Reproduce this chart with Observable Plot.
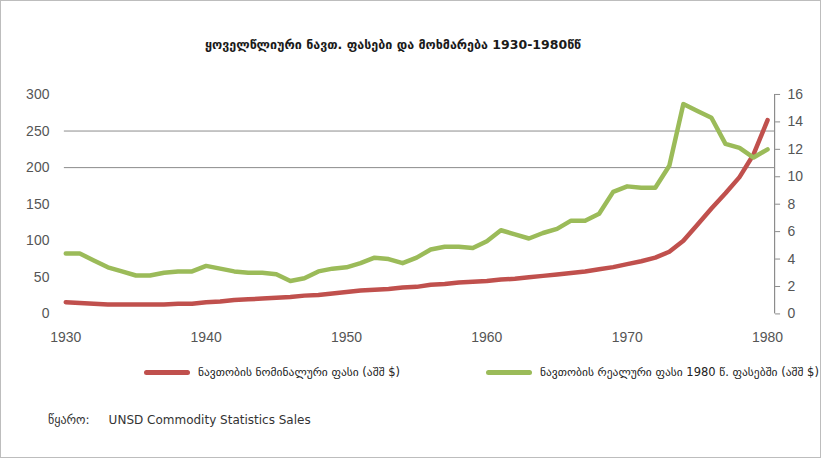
<!DOCTYPE html>
<html>
<head>
<meta charset="utf-8">
<script src="https://cdn.jsdelivr.net/npm/d3@7"></script>
<script src="https://cdn.jsdelivr.net/npm/@observablehq/plot@0.6"></script>
<style>
  html, body { margin: 0; padding: 0; background: #fff; }
  #frame { position: relative; width: 819px; height: 456px; border: 1px solid #bdbdbd; overflow: hidden; background: #fff; }
  #title { position: absolute; left: 0; top: 36px; width: 784px; text-align: center; font: bold 12.5px "DejaVu Sans", sans-serif; color: #1a1a1a; }
  #chart { position: absolute; left: 0; top: 80px; }
  #legend { position: absolute; left: 143px; top: 364px; width: 670px; font: 11.5px "DejaVu Sans", sans-serif; color: #222; white-space: nowrap; }
  .item { position: absolute; top: 0; display: flex; align-items: center; }
  .sw { display: inline-block; width: 46px; height: 5px; border-radius: 3px; margin-right: 8px; }
  #source { position: absolute; left: 47px; top: 412px; font: 12px "DejaVu Sans", sans-serif; color: #333; white-space: pre; }
</style>
</head>
<body>
<div id="frame">
  <div id="title"></div>
  <div id="chart"></div>
  <div id="legend"></div>
  <div id="source"></div>
</div>
<script>
const titleText = "ყოველწლიური ნავთ. ფასები და მოხმარება 1930-1980წწ";
const sourceText = "წყარო:     UNSD Commodity Statistics Sales";
const seriesNames = ["ნავთობის ნომინალური ფასი (აშშ $)", "ნავთობის რეალური ფასი 1980 წ. ფასებში (აშშ $)"];
const years = d3.range(1930, 1981);
const redValues = [16,15,14,13,13,13,13,13,14,14,16,17,19,20,21,22,23,25,26,28,30,32,33,34,36,37,40,41,43,44,45,47,48,50,52,54,56,58,61,64,68,72,77,85,100,122,144,165,187,218,265];
const greenValues = [4.4,4.4,3.9,3.4,3.1,2.8,2.8,3.0,3.1,3.1,3.5,3.3,3.1,3.0,3.0,2.9,2.4,2.6,3.1,3.3,3.4,3.7,4.1,4.0,3.7,4.1,4.7,4.9,4.9,4.8,5.3,6.1,5.8,5.5,5.9,6.2,6.8,6.8,7.3,8.9,9.3,9.2,9.2,10.8,15.3,14.8,14.3,12.4,12.1,11.4,12.0];
const leftTicks = [0,50,100,150,200,250,300];
const rightTicks = [0,2,4,6,8,10,12,14,16];
const xTicks = [1930,1940,1950,1960,1970,1980];
const gridValues = [200,250];
const colors = ["#c0504d", "#9bbb59"];

const k = 300 / 16;
const red = years.map((y, i) => ({year: y, v: redValues[i]}));
const green = years.map((y, i) => ({year: y, v: greenValues[i] * k}));

document.getElementById("title").textContent = titleText;
document.getElementById("source").textContent = sourceText;

const chart = Plot.plot({
  width: 821,
  height: 270,
  marginLeft: 63,
  marginRight: 46,
  marginTop: 13,
  marginBottom: 37,
  style: {fontFamily: "'Liberation Sans', Arial, sans-serif", fontSize: "14px", color: "#444", background: "transparent"},
  x: {domain: [1929.9, 1980.5]},
  y: {domain: [0, 300]},
  marks: [
    Plot.ruleY(gridValues, {stroke: "#8c8c8c", strokeWidth: 1}),
    Plot.axisY({ticks: leftTicks, tickSize: 0, tickPadding: 15, label: null, fill: "#555"}),
    Plot.axisY({anchor: "right", ticks: rightTicks.map(t => t * k), tickFormat: d => Math.round(d / k), tickSize: 5, tickPadding: 8, label: null, fill: "#555", stroke: "#8c8c8c"}),
    Plot.ruleX([1980.5], {stroke: "#8c8c8c", strokeWidth: 1.2}),
    Plot.axisX({ticks: xTicks, tickFormat: d => String(d), tickSize: 0, tickPadding: 18, label: null, fill: "#555"}),
    Plot.line(red, {x: "year", y: "v", stroke: colors[0], strokeWidth: 4.5, curve: "linear"}),
    Plot.line(green, {x: "year", y: "v", stroke: colors[1], strokeWidth: 4.5, curve: "linear"})
  ]
});
document.getElementById("chart").appendChild(chart);

const legend = document.getElementById("legend");
const offsets = [0, 342];
seriesNames.forEach((name, i) => {
  const item = document.createElement("div");
  item.className = "item";
  item.style.left = offsets[i] + "px";
  const sw = document.createElement("span");
  sw.className = "sw";
  sw.style.background = colors[i];
  const t = document.createElement("span");
  t.textContent = name;
  item.appendChild(sw);
  item.appendChild(t);
  legend.appendChild(item);
});
</script>
</body>
</html>
